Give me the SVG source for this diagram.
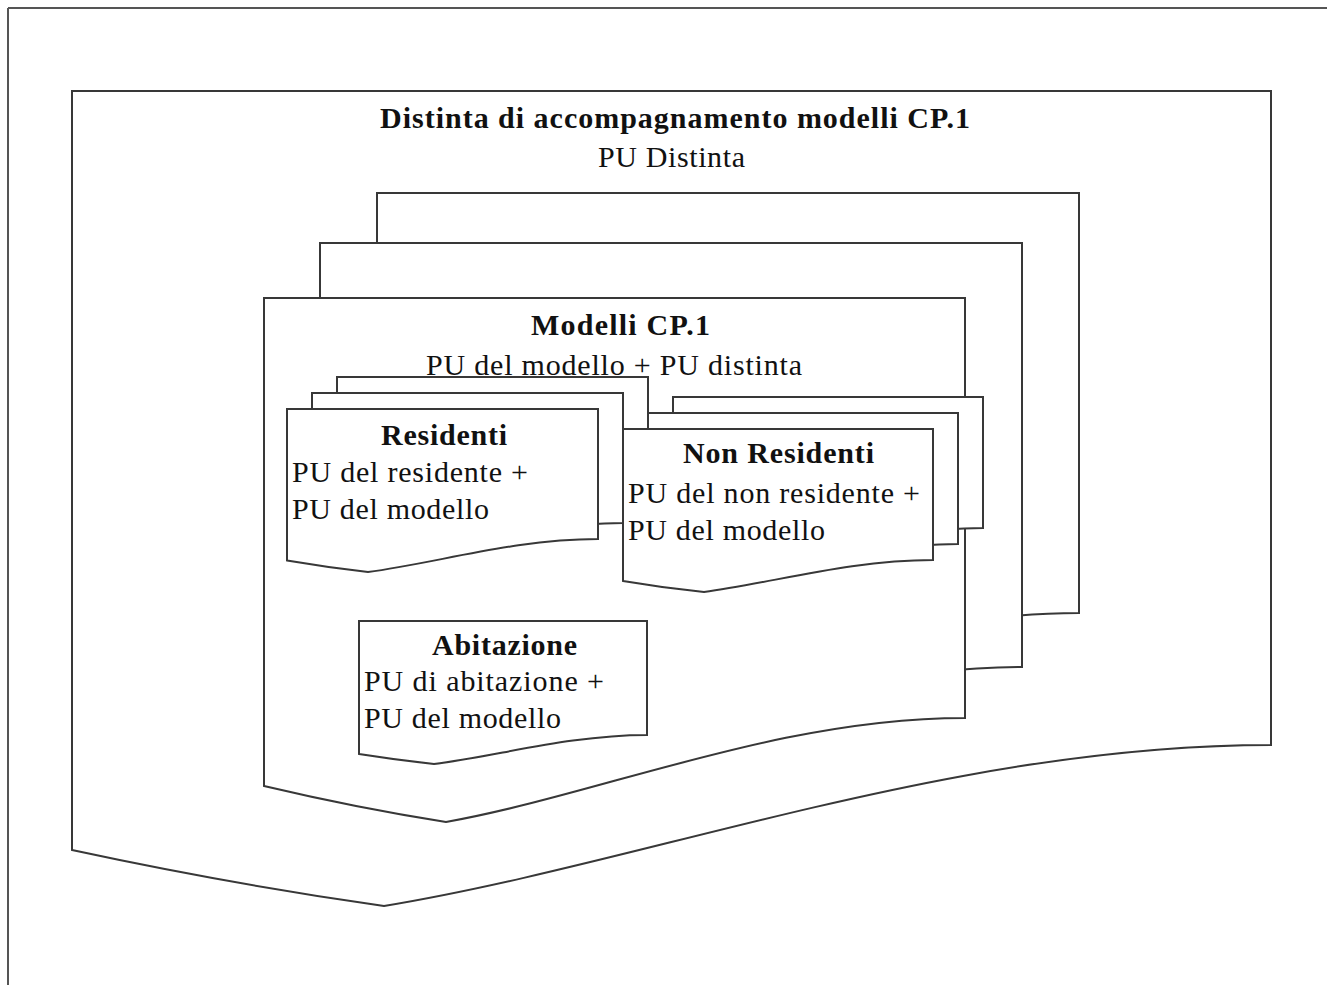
<svg xmlns="http://www.w3.org/2000/svg" width="1327" height="985" viewBox="0 0 1327 985">
  <style>
    .doc { fill: #ffffff; stroke: #383838; stroke-width: 2; stroke-linejoin: miter; }
    .frame { fill: none; stroke: #555555; stroke-width: 2; }
    .t { font-family: "Liberation Serif", "Times New Roman", serif; font-size: 30px; fill: #111111; }
    .b { font-weight: bold; }
  </style>

  <rect x="0" y="0" width="1327" height="985" fill="#ffffff"/>

  <!-- page frame: top and left edges only -->
  <g id="frame">
    <line class="frame" x1="8" y1="8" x2="1327" y2="8"/>
    <line class="frame" x1="8" y1="8" x2="8" y2="985"/>
  </g>

  <!-- outer document: Distinta -->
  <g id="distinta">
    <path class="doc" d="M72,91 H1271 V745 C950,745 650,862 384,906 Q230,884 72,850 Z"/>
    <text class="t b" x="380" y="128" textLength="590">Distinta di accompagnamento modelli CP.1</text>
    <text class="t" x="598" y="167" textLength="147">PU Distinta</text>
  </g>

  <!-- stack of Modelli CP.1 documents -->
  <g id="modelli-back">
    <path class="doc" d="M377,193 H1079 V613 C890,613 715,689 559,717 Q470,703 377,681 Z"/>
  </g>
  <g id="modelli-middle">
    <path class="doc" d="M320,243 H1022 V667 C833,667 658,743 502,771 Q413,757 320,735 Z"/>
  </g>
  <g id="modelli">
    <path class="doc" d="M264,298 H965 V718 C777,718 602,794 446,822 Q357,808 264,786 Z"/>
    <text class="t b" x="531" y="335" textLength="179">Modelli CP.1</text>
    <text class="t" x="426" y="375" textLength="376">PU del modello + PU distinta</text>
  </g>

  <!-- stack of Residenti documents -->
  <g id="residenti-back">
    <path class="doc" d="M337,377 H648 V507 C565,507 487,531 418,540 Q378,535.5 337,528.5 Z"/>
  </g>
  <g id="residenti-middle">
    <path class="doc" d="M312,393 H623 V523 C540,523 462,547 393,556 Q353,551.5 312,544.5 Z"/>
  </g>
  <g id="residenti">
    <path class="doc" d="M287,409 H598 V539 C515,539 437,563 368,572 Q328,567.5 287,560.5 Z"/>
    <text class="t b" x="381" y="445" textLength="126">Residenti</text>
    <text class="t" x="292" y="482" textLength="236">PU del residente +</text>
    <text class="t" x="292" y="519" textLength="197">PU del modello</text>
  </g>

  <!-- stack of Non Residenti documents -->
  <g id="non-residenti-back">
    <path class="doc" d="M673,397 H983 V528 C900,528 822,551 754,560 Q714,556 673,549 Z"/>
  </g>
  <g id="non-residenti-middle">
    <path class="doc" d="M648,413 H958 V544 C875,544 797,567 729,576 Q689,572 648,565 Z"/>
  </g>
  <g id="non-residenti">
    <path class="doc" d="M623,429 H933 V560 C850,560 772,583 704,592 Q664,588 623,581 Z"/>
    <text class="t b" x="683" y="463" textLength="191">Non Residenti</text>
    <text class="t" x="628" y="503" textLength="292">PU del non residente +</text>
    <text class="t" x="628" y="540" textLength="197">PU del modello</text>
  </g>

  <!-- Abitazione document -->
  <g id="abitazione">
    <path class="doc" d="M359,621 H647 V735 C570,735 498,756 434,764 Q397,760 359,754 Z"/>
    <text class="t b" x="432" y="655" textLength="145">Abitazione</text>
    <text class="t" x="364" y="691" textLength="240">PU di abitazione +</text>
    <text class="t" x="364" y="728" textLength="197">PU del modello</text>
  </g>
</svg>
